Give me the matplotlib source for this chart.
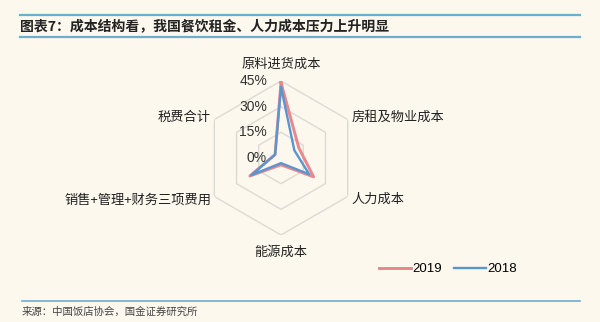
import numpy as np
import matplotlib.pyplot as plt

plt.rcParams['font.family'] = ['Noto Sans CJK SC', 'DejaVu Sans']

categories = ['原料进货成本', '房租及物业成本', '人力成本', '能源成本',
              '销售+管理+财务三项费用', '税费合计']
v2019 = [44, 12, 22, 4, 21, 4]
v2018 = [41.5, 9, 19, 3, 20, 4]
rticks = [0, 15, 30, 45]
rtick_labels = ['0%', '15%', '30%', '45%']

bg = '#fcf8ee'
red = '#e8878c'
blue = '#5a95d0'
band = '#6aaed0'

fig = plt.figure(figsize=(6, 3.22), dpi=100, facecolor=bg)

# title band
fig.add_artist(plt.Line2D([20/600, 580/600], [1-15/322, 1-15/322], color=band, lw=1.6))
fig.add_artist(plt.Line2D([20/600, 580/600], [1-37/322, 1-37/322], color=band, lw=1.6))
fig.text(20/600, 1-26/322, '图表7：成本结构看，我国餐饮租金、人力成本压力上升明显',
         fontsize=10, fontweight='bold', color='#222222', va='center', ha='left')
fig.add_artist(plt.Line2D([22/600, 580/600], [1-301/322, 1-301/322], color=band, lw=1.2))
fig.text(22/600, 1-312/322, '来源：中国饭店协会，国金证券研究所',
         fontsize=7.5, color='#444444', va='center', ha='left')

cx, cy, R = 281, 158, 77
ax = fig.add_axes([(cx-R)/600, (322-cy-R)/322, 2*R/600, 2*R/322], projection='polar')
ax.set_facecolor('none')
ax.set_theta_zero_location('N')
ax.set_theta_direction(-1)
ax.set_ylim(0, 45)
ax.grid(False)
ax.spines['polar'].set_visible(False)
ax.set_xticks([])
ax.set_yticks([])

n = len(categories)
theta = np.linspace(0, 2*np.pi, n, endpoint=False)
tc = np.append(theta, theta[0])

for r in rticks[1:]:
    ax.plot(tc, [r]*(n+1), color='#dcdad4', lw=1.0, zorder=1)

ax.plot(tc, v2019 + v2019[:1], color=red, lw=2.1, label='2019', zorder=3)
ax.plot(tc, v2018 + v2018[:1], color=blue, lw=1.7, label='2018', zorder=4)

for r, lab in zip(rticks, rtick_labels):
    ax.annotate(lab, (0, r), xytext=(-14, 0), textcoords='offset pixels',
                ha='right', va='center', fontsize=10, color='#333333',
                family=['Liberation Sans', 'DejaVu Sans'], annotation_clip=False)

offsets = [(0, 17, 'center'), (4, 2, 'left'), (4, -3, 'left'),
           (0, -17, 'center'), (-3, -4, 'right'), (-4, 2, 'right')]
for t, lab, (dx, dy, ha) in zip(theta, categories, offsets):
    ax.annotate(lab, (t, 45), xytext=(dx, dy), textcoords='offset pixels',
                ha=ha, va='center', fontsize=9.5, color='#222222',
                annotation_clip=False)

fig.legend(loc='center left', bbox_to_anchor=(367/600, 1-269/322), ncol=2,
           frameon=False, handlelength=2.4, columnspacing=0.9,
           handletextpad=0.15, prop={'family': ['Liberation Sans'], 'size': 9.5})

fig.savefig('out.png', dpi=100, facecolor=bg)
